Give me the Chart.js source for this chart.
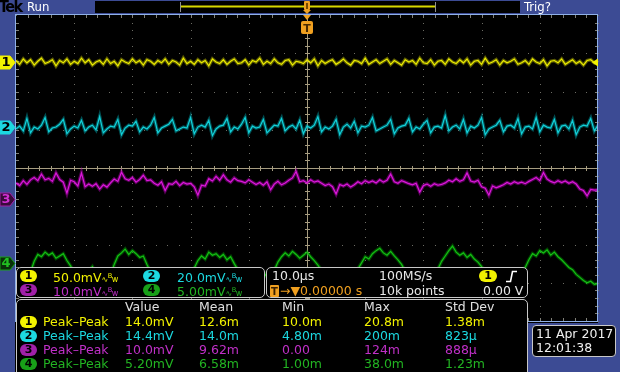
<!DOCTYPE html>
<html>
<head>
<meta charset="utf-8">
<title>Tek - 4 canales</title>
<script src="https://cdn.jsdelivr.net/npm/chart.js@4.4.1/dist/chart.umd.min.js"></script>
<style>
  body { margin:0; width:620px; height:372px; background:#000; position:relative; overflow:hidden;
         font-family:"DejaVu Sans","Liberation Sans",sans-serif; font-size:12.5px; }
  #scope { position:absolute; left:0; top:0; z-index:2; }
  .panel { position:absolute; background:#3c4b94; z-index:1; }
  .ov { position:absolute; z-index:3; }
  .t { position:absolute; white-space:nowrap; line-height:14px; z-index:4; }
  .box { position:absolute; background:#000; border:1px solid #c8c8c8; border-radius:5px; box-sizing:border-box; z-index:3; }
  .badge { position:absolute; width:17px; height:12px; border-radius:6px; z-index:4;
           font:bold 11px/12px "DejaVu Sans",sans-serif; text-align:center; color:#000; }
  .bw { font-size:8px; letter-spacing:-0.5px; }
</style>
</head>
<body>

<canvas id="scope" width="620" height="372"></canvas>

<script>
// ============================================================
// Datos (mV respecto a la tierra de cada canal)
// ============================================================

const xDivs = [-50, -40, -30, -20, -10, 0, 10, 20, 30, 40, 50];   // µs, 10 µs/div
const yDivs = [-4, -3, -2, -1, 0, 1, 2, 3, 4];                      // divisiones

const chNames  = ['1', '2', '3', '4'];
const chScales = [50, 20, 10, 5];                                   // mV/div
const chScaleText = ['50.0mV', '20.0mV', '10.0mV', '5.00mV'];

const ch1 = [
  2,-3,4,-1,3,-4,1,5,-2,0,3,-5,2,-1,4,-3,1,-2,5,-1,
  3,-4,0,2,-3,4,-2,1,-5,3,0,-2,4,-1,2,-4,3,1,-3,2,
  -1,4,-3,2,0,-4,5,-2,1,-3,3,-1,2,-5,4,0,-2,3,-3,1,
  4,-2,-1,3,-4,2,0,5,-3,1,-2,4,-1,-3,2,3,-4,1,0,-2,
  3,-1,4,-5,2,-2,1,3,-3,0,4,-1,-4,2,1,-2,5,-3,0,3,
  -2,1,4,-3,2,-1,-4,3,0,2,-3,5,-1,-2,3,-4,1,2,-3,4,
  0,-2,3,-1,4,-4,1,2,-3,5,-2,0,3,-4,2,-1,1,4,-3,-1,
  2,-3,4,0,-2,3,-5,1,2,-1,4,-3,0,3,-2,1,-4,2,3,-1,
  2
];

const ch2 = [
  -1,0.5,-2,4.5,-3,0,-1,1,5,-2.5,-0.5,0,1.5,4,-3.5,-1,0.5,-0.5,3.5,-2,
  0,1,-1.5,5.5,-3,-1,0.5,0,4,-4,-0.5,1,0.5,3,-2.5,0,-1,1,5,-3,
  -0.5,0.5,1.5,4,-2,-1,0,-0.5,5,-3.5,0,1,0,3.5,-4.5,-1,0.5,1,4.5,-2.5,
  0,-1,1.5,5,-3,0.5,-0.5,0,4,-3,-1,1,0.5,4.5,-2,0,1,-1,3.5,-3.5,
  0.5,-0.5,1,5.5,-2.5,0,-1,0.5,4,-4,0,1.5,-0.5,3,-3,0.5,0,1,5,-2,
  -1,0,1,4,-3.5,-0.5,0.5,1,4.5,-2.5,0,-1,1.5,3.5,-3,0,0.5,-0.5,6,-2,
  0,1,-1,4,-3,0.5,-0.5,1,5,-4,-1,0,1,3.5,-2.5,0.5,1,-0.5,4.5,-3.5,
  0,0.5,-1,5,-2.5,1,0,-0.5,4,-3,0.5,1,-1,3.5,-4,0,1,0.5,4.5,-2,
  1
];

const ch3 = [
  4.2,3.5,4.8,3.8,5.0,
  5.6,4.8,6.5,5.0,5.4,4.6,6.8,5.1,4.4,
  1.5,4.9,4.5,
  3.4,6.8,3.2,3.9,3.3,4.0,2.6,3.7,3.1,4.2,
  5.2,4.6,7.0,5.3,4.9,5.6,4.4,5.1,6.2,4.8,5.0,
  4.1,3.6,4.5,2.2,4.0,3.8,4.6,3.5,4.3,3.9,4.1,
  3.2,1.0,3.6,3.4,
  5.3,4.7,5.9,4.9,6.3,5.0,4.4,5.5,4.8,
  4.6,4.2,5.0,4.4,
  3.8,4.3,3.6,4.5,2.4,3.9,4.6,3.7,4.2,4.9,5.5,7.2,4.5,
  4.8,4.2,5.0,4.4,4.7,4.1,
  3.5,3.9,3.2,1.3,3.8,3.4,3.9,3.1,3.7,
  4.5,4.0,4.8,4.3,
  4.7,4.2,5.0,4.4,4.9,6.5,4.5,4.1,4.8,4.4,4.0,
  3.7,4.1,1.8,3.5,3.9,3.3,4.0,3.6,3.8,4.2,
  4.9,4.5,5.3,4.6,5.0,6.8,4.7,4.4,4.9,
  3.2,2.8,1.0,3.4,2.9,3.3,3.7,
  4.3,3.9,4.5,4.1,4.4,4.0,4.6,
  5.1,5.6,4.8,6.9,5.2,
  4.6,4.2,4.8,4.3,4.7,4.1,4.5,3.9,
  2.6,2.2,0.8,2.5,2.3,2.4
];

const ch4 = [
  -1.8,-2.2,-1.5,-2.0,-1.2,
  0.2,1.1,0.8,1.4,1.0,1.3,0.6,0.9,1.2,0.3,-0.4,
  -1.3,-2.0,-2.4,-1.9,-1.1,-0.5,-1.4,-2.1,-2.6,-2.2,-1.6,
  -0.2,0.9,1.3,1.8,1.1,1.6,1.2,0.7,0.9,-0.2,
  -1.2,-1.9,-2.5,-2.2,-1.7,-2.4,-2.8,-2.1,-1.5,-1.9,-2.3,-1.4,-0.7,
  0.3,0.9,0.5,1.4,1.0,1.2,0.7,1.1,0.4,0.8,-0.1,
  -0.9,-1.6,-2.2,-2.7,-2.3,-1.8,-2.5,-2.0,-1.3,-1.8,-1.0,
  0.1,0.8,1.3,0.9,1.5,1.1,0.6,1.0,1.4,0.8,0.3,-0.3,
  -1.0,-1.8,-2.4,-2.1,-2.6,-1.9,-1.4,-2.2,-2.6,-1.7,-0.8,
  0.0,0.8,0.5,1.2,1.6,1.9,1.3,1.0,1.5,0.9,0.4,-0.2,
  -1.1,-1.9,-2.3,-1.8,-2.6,-2.9,-2.2,-1.6,-1.9,-0.8,
  0.2,0.9,1.6,2.2,1.4,1.0,1.3,0.7,1.1,0.5,0.1,-0.5,
  -1.2,-1.8,-2.4,-2.0,-2.7,-2.3,-1.7,-2.1,-2.5,-1.8,-1.2,-0.6,
  0.4,1.2,0.9,1.6,1.3,1.7,1.0,1.4,0.8,0.4,-0.1,
  -0.6,-0.9,-1.5,-1.9,-2.3,-2.6,-2.4,-2.8,-2.7
];

// Tabla de medidas
const measHeaders = ['Value', 'Mean', 'Min', 'Max', 'Std Dev'];
const measType = 'Peak–Peak';
const meas1 = ['14.0mV', '12.6m', '10.0m', '20.8m', '1.38m'];
const meas2 = ['14.4mV', '14.0m', '4.80m', '200m', '823µ'];
const meas3 = ['10.0mV', '9.62m', '0.00', '124m', '888µ'];
const meas4 = ['5.20mV', '6.58m', '1.00m', '38.0m', '1.23m'];

// ============================================================
// Ajustes del osciloscopio y estilos
// ============================================================

const chOffsets = [2.77, 1.07, -0.81, -2.48];   // posicion vertical (div)
const chColors  = ['#ecec00', '#12d2da', '#dc18dc', '#14c014'];
const chGlow    = ['rgba(200,200,0,0.45)', 'rgba(0,170,180,0.45)', 'rgba(170,0,170,0.5)', 'rgba(0,150,0,0.45)'];
const chText    = ['#f2f200', '#1cd8e0', '#c030c8', '#22b422'];
const chBadge   = ['#f2f200', '#1cd8e0', '#a020a8', '#18a018'];
const series    = [ch1, ch2, ch3, ch4];

function toPoints(values, i) {
    const n = values.length;
    return values.map((mv, k) => ({
        x: -50 + k * 100 / (n - 1),
        y: mv / chScales[i] + chOffsets[i]
    }));
}

const scopeGraticule = {
    id: 'scopeGraticule',
    beforeDatasetsDraw(chart) {
        const { ctx, chartArea: a, scales: { x, y } } = chart;
        const px = v => Math.round(x.getPixelForValue(v));
        const py = v => Math.round(y.getPixelForValue(v));
        ctx.save();

        // lineas de division punteadas
        ctx.fillStyle = '#6c6c64';
        xDivs.forEach(t => { for (let k = 0; k <= 40; k++) ctx.fillRect(px(t), py(-4 + k * 0.2), 1, 1); });
        yDivs.forEach(v => { for (let k = 0; k <= 50; k++) ctx.fillRect(px(-50 + k * 2), py(v), 1, 1); });

        // marcas en los bordes
        ctx.fillStyle = '#808078';
        for (let k = 1; k < 40; k++) {
            const yy = py(-4 + k * 0.2);
            ctx.fillRect(a.left, yy, 3, 1);
            ctx.fillRect(a.right - 3, yy, 3, 1);
        }
        for (let k = 1; k < 50; k++) {
            const xx = px(-50 + k * 2);
            ctx.fillRect(xx, a.top, 1, 3);
            ctx.fillRect(xx, a.bottom - 3, 1, 3);
        }

        // lineas centrales (trigger)
        ctx.fillStyle = '#a69c80';
        ctx.fillRect(a.left, py(0), a.right - a.left, 1);
        ctx.fillRect(px(0), a.top, 1, a.bottom - a.top);
        for (let k = 1; k < 50; k++) ctx.fillRect(px(-50 + k * 2), py(0) - 2, 1, 5);
        for (let k = 1; k < 40; k++) ctx.fillRect(px(0) - 2, py(-4 + k * 0.2), 5, 1);
        ctx.restore();
    },
    afterDraw(chart) {
        const { ctx, chartArea: a, scales: { y } } = chart;
        ctx.save();
        ctx.strokeStyle = '#8fb0e8';
        ctx.lineWidth = 1;
        ctx.strokeRect(a.left - 0.5, a.top - 0.5, a.right - a.left, a.bottom - a.top + 1);

        // marcadores de tierra de cada canal
        const fills  = ['#f2f200', '#1cd8e0', '#3a0a3a', '#0a300a'];
        const digits = ['#000', '#000', '#d030d0', '#22c022'];
        chNames.forEach((name, i) => {
            const yy = Math.round(y.getPixelForValue(chOffsets[i])) + 0.5;
            ctx.beginPath();
            ctx.moveTo(0, yy - 6.5); ctx.lineTo(10, yy - 6.5); ctx.lineTo(15, yy);
            ctx.lineTo(10, yy + 6.5); ctx.lineTo(0, yy + 6.5); ctx.closePath();
            ctx.fillStyle = fills[i]; ctx.fill();
            ctx.strokeStyle = chBadge[i]; ctx.stroke();
            ctx.fillStyle = digits[i];
            ctx.font = 'bold 13px "DejaVu Sans"';
            ctx.textAlign = 'center'; ctx.textBaseline = 'middle';
            ctx.fillText(name, 6, yy + 0.5);
        });

        // nivel de disparo (canal 1) a la derecha
        const ty = Math.round(y.getPixelForValue(chOffsets[0])) + 0.5;
        ctx.fillStyle = '#f2f200';
        ctx.beginPath();
        ctx.moveTo(a.right, ty - 4); ctx.lineTo(a.right - 6, ty); ctx.lineTo(a.right, ty + 4); ctx.closePath();
        ctx.fill();
        ctx.restore();
    }
};

// cada canal: traza fina + halo tenue (gradacion de intensidad)
const traceSets = [];
series.forEach((vals, i) => {
    const pts = toPoints(vals, i);
    traceSets.push({ label: 'CH' + chNames[i], data: pts, borderColor: chColors[i],
                     borderWidth: 1.2, pointRadius: 0, tension: 0, order: 0 });
    traceSets.push({ label: 'CH' + chNames[i] + ' halo', data: pts, borderColor: chGlow[i],
                     borderWidth: 3.5, pointRadius: 0, tension: 0, order: 1 });
});

new Chart(document.getElementById('scope'), {
    type: 'line',
    data: { datasets: traceSets },
    options: {
        responsive: false,
        animation: false,
        events: [],
        layout: { padding: { left: 16, top: 15, right: 22, bottom: 51 } },
        plugins: { legend: { display: false }, tooltip: { enabled: false } },
        scales: {
            x: { type: 'linear', min: -50, max: 50, display: false },
            y: { min: -4, max: 4, display: false }
        }
    },
    plugins: [scopeGraticule]
});

// ============================================================
// Paneles y textos del instrumento
// ============================================================

function badge(i, left, center) {
    return `<div class="badge" style="left:${left}px;top:${center - 6}px;background:${chBadge[i]}">${chNames[i]}</div>`;
}
function txt(s, left, center, color, extra = '') {
    return `<div class="t" style="left:${left}px;top:${center - 7}px;color:${color};${extra}">${s}</div>`;
}

const bwMark = '<span class="bw">∿<sup>B</sup>w</span>';
let html = `
    <div class="panel" style="left:0;top:0;width:620px;height:14px"></div>
    <div class="panel" style="left:0;top:14px;width:15px;height:358px"></div>
    <div class="panel" style="left:598px;top:14px;width:22px;height:311px"></div>
    <div class="panel" style="left:528px;top:323px;width:92px;height:49px"></div>

    <div class="t" style="left:-1px;top:-2px;color:#000;font:bold 16px/17px 'DejaVu Sans Condensed','DejaVu Sans';letter-spacing:-1.5px">Tek</div>
    <div class="t" style="left:27px;top:-1px;color:#fff;font:13px/16px 'DejaVu Sans Condensed','DejaVu Sans'">Run</div>
    <div class="t" style="left:524px;top:-1px;color:#fff;font:13px/16px 'DejaVu Sans Condensed','DejaVu Sans'">Trig?</div>
    <div class="ov" style="left:95px;top:1px;width:425px;height:12px;background:#000"></div>

    <svg class="ov" width="620" height="372" style="left:0;top:0;z-index:4">
        <line x1="181" y1="6.5" x2="435" y2="6.5" stroke="#d8d800" stroke-width="2"/>
        <line x1="180.5" y1="2" x2="180.5" y2="12" stroke="#909090"/>
        <line x1="435.5" y1="2" x2="435.5" y2="12" stroke="#909090"/>
        <rect x="304" y="1" width="6" height="9" rx="1" fill="#f0a020"/>
        <rect x="306" y="3" width="2" height="6" fill="#7a4a00"/>
        <path d="M303,10 H311 L307,14 Z" fill="#f0a020"/>
        <path d="M303,15 H311 L307,20 Z" fill="#f0a020"/>
        <rect x="301" y="21" width="12" height="13" rx="2" fill="#f0a020"/>
        <text x="307" y="31.5" text-anchor="middle" font-family="DejaVu Sans" font-weight="bold" font-size="11" fill="#4a2a00">T</text>
        <rect x="270" y="285" width="9" height="12" rx="1" fill="#f0a020"/>
        <text x="274.5" y="295" text-anchor="middle" font-family="DejaVu Sans" font-weight="bold" font-size="10" fill="#3a2000">T</text>
        <path d="M506,281.5 H510.5 L512.5,271.5 H517" fill="none" stroke="#fff" stroke-width="1.6"/>
    </svg>

    <div class="box" style="left:16px;top:267px;width:249px;height:31px"></div>
    <div class="box" style="left:266px;top:267px;width:262px;height:31px"></div>
    <div class="box" style="left:16px;top:299px;width:512px;height:90px"></div>
    <div class="box" style="left:532px;top:325px;width:84px;height:32px;border-radius:4px"></div>
`;

// escalas verticales
[[0, 20, 53, 276], [1, 143, 177, 276], [2, 20, 53, 290], [3, 143, 177, 290]].forEach(([i, bx, tx, cy]) => {
    html += badge(i, bx, cy);
    html += txt(chScaleText[i] + bwMark, tx, cy, chText[i]);
});

// base de tiempos y disparo
html += txt('10.0µs', 272, 276, '#e8e8e8');
html += txt('100MS/s', 379, 276, '#e8e8e8');
html += `<div class="badge" style="left:479px;top:270px;width:18px;background:#f2f200">1</div>`;
html += txt('→▼0.00000 s', 280, 291, '#f0a020');
html += txt('10k points', 379, 291, '#e8e8e8');
html += txt('0.00 V', 483, 291, '#e8e8e8');

// tabla de medidas
const measCols = [125, 199, 282, 364, 445];
measHeaders.forEach((h, k) => { html += txt(h, measCols[k], 307, '#e0e0e0'); });
[meas1, meas2, meas3, meas4].forEach((row, i) => {
    const cy = 322 + i * 14;
    html += badge(i, 20, cy);
    html += txt(measType, 43, cy, chText[i]);
    row.forEach((v, k) => { html += txt(v, measCols[k], cy, chText[i]); });
});

// fecha y hora
html += txt('11 Apr 2017', 536, 334, '#f0f0f0', 'font-size:12.5px');
html += txt('12:01:38', 536, 348, '#f0f0f0', 'font-size:12.5px');

document.body.insertAdjacentHTML('beforeend', html);
</script>
</body>
</html>
